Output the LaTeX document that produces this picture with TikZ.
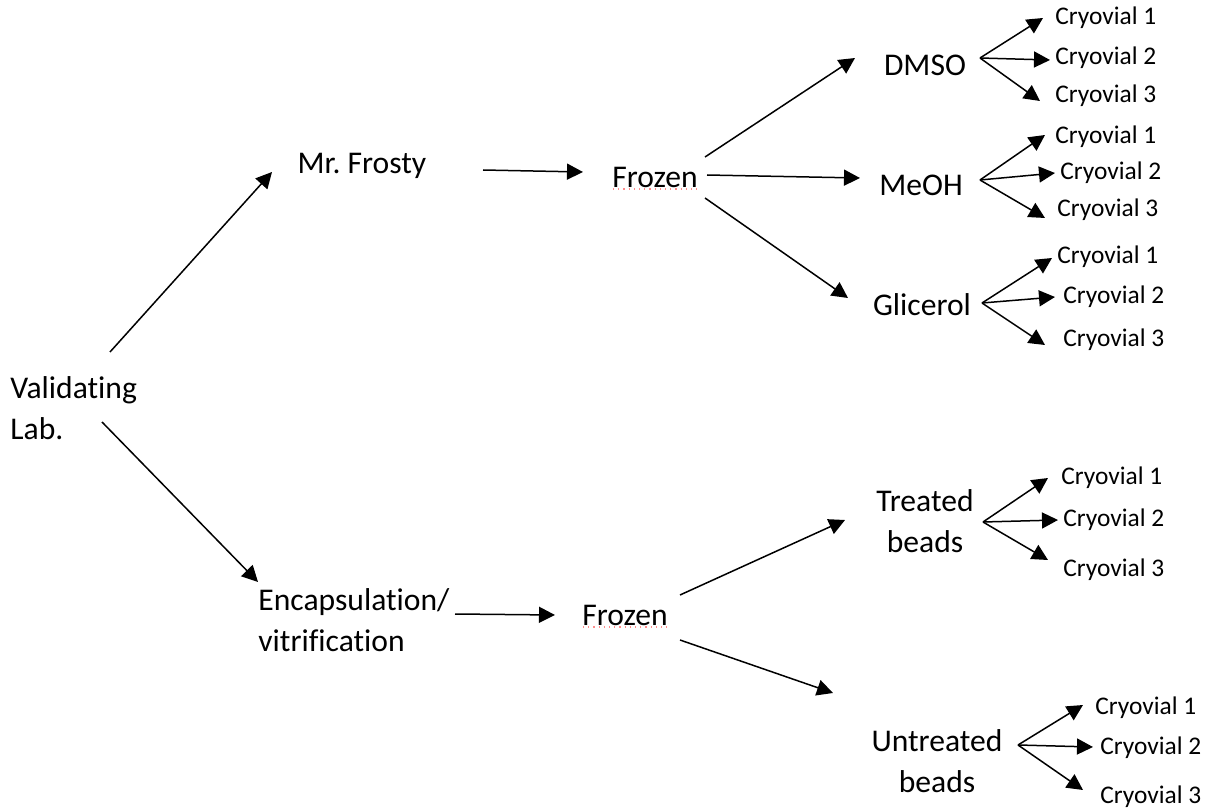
\documentclass[tikz,border=0pt]{standalone}
\usepackage{fontspec}
\setmainfont{Carlito}[Ligatures={NoCommon}]
\usetikzlibrary{arrows.meta}
\begin{document}
\begin{tikzpicture}[x=0.5pt,y=-0.5pt,
  lbl/.style={inner sep=0pt, font=\fontsize{15.8}{20.5}\selectfont},
  cryo/.style={inner sep=0pt, anchor=west, font=\fontsize{12.7}{14}\selectfont},
  arr/.style={line width=0.75pt, -{Triangle[length=8pt,width=8pt]}},
  spell/.style={red!45, dotted, line width=0.6pt}]
\useasboundingbox (0,0) rectangle (1210,812);
% main labels
\node[lbl, anchor=west, align=left] (val) at (10,408) {Validating\\Lab.};
\node[lbl] (frosty) at (362,166) {Mr.\ Frosty};
\node[lbl] (fz1) at (655,177) {Frozen};
\node[lbl] (dmso) at (925,65) {DMSO};
\node[lbl] (meoh) at (921,185) {MeOH};
\node[lbl] (glic) at (922,305) {Glicerol};
\node[lbl, align=center] (treat) at (925,521) {Treated\\beads};
\node[lbl, anchor=west, align=left] (enc) at (258,620) {Encapsulation/\\vitrification};
\node[lbl] (fz2) at (625,615) {Frozen};
\node[lbl, align=center] (untr) at (937,761) {Untreated\\beads};
% spell-check underline
\draw[spell] ([shift={(-42,12)}]fz1.center) -- ([shift={(43,12)}]fz1.center);
\draw[spell] ([shift={(-42,12)}]fz2.center) -- ([shift={(43,12)}]fz2.center);
% cryovials
\node[cryo] (d1) at (1055,18) {Cryovial 1};
\node[cryo] (d2) at (1055,58) {Cryovial 2};
\node[cryo] (d3) at (1055,96) {Cryovial 3};
\node[cryo] (m1) at (1055,137) {Cryovial 1};
\node[cryo] (m2) at (1060,173) {Cryovial 2};
\node[cryo] (m3) at (1057,210) {Cryovial 3};
\node[cryo] (g1) at (1057,257) {Cryovial 1};
\node[cryo] (g2) at (1063,297) {Cryovial 2};
\node[cryo] (g3) at (1063,340) {Cryovial 3};
\node[cryo] (t1) at (1061,478) {Cryovial 1};
\node[cryo] (t2) at (1063,520) {Cryovial 2};
\node[cryo] (t3) at (1063,570) {Cryovial 3};
\node[cryo] (u1) at (1095,708) {Cryovial 1};
\node[cryo] (u2) at (1100,748) {Cryovial 2};
\node[cryo] (u3) at (1100,797) {Cryovial 3};
% main arrows
\draw[arr] ([shift={(100,-56)}]val.west) -- ([shift={(-90,6)}]frosty.center);
\draw[arr] ([shift={(92,14)}]val.west) -- ([shift={(0,-38)}]enc.west);
\draw[arr] ([shift={(121,4)}]frosty.center) -- ([shift={(-72,-5)}]fz1.center);
\draw[arr] ([shift={(50,-20)}]fz1.center) -- ([shift={(-70,-7)}]dmso.center);
\draw[arr] ([shift={(52,-2)}]fz1.center) -- ([shift={(-61,-7)}]meoh.center);
\draw[arr] ([shift={(50,21)}]fz1.center) -- ([shift={(-74,-7)}]glic.center);
\draw[arr] ([shift={(197,-6)}]enc.west) -- ([shift={(-70,0)}]fz2.center);
\draw[arr] ([shift={(55,-20)}]fz2.center) -- ([shift={(-80,-1)}]treat.center);
\draw[arr] ([shift={(55,25)}]fz2.center) -- ([shift={(-104,-68)}]untr.center);
% fans
\draw[arr] ([shift={(55,-7)}]dmso.center) -- ([shift={(-12,0)}]d1.west);
\draw[arr] ([shift={(55,-7)}]dmso.center) -- ([shift={(-5,2)}]d2.west);
\draw[arr] ([shift={(55,-7)}]dmso.center) -- ([shift={(-15,5)}]d3.west);
\draw[arr] ([shift={(59,-5)}]meoh.center) -- ([shift={(-10,-2)}]m1.west);
\draw[arr] ([shift={(59,-5)}]meoh.center) -- ([shift={(-5,0)}]m2.west);
\draw[arr] ([shift={(59,-5)}]meoh.center) -- ([shift={(-12,8)}]m3.west);
\draw[arr] ([shift={(60,-2)}]glic.center) -- ([shift={(-5,1)}]g1.west);
\draw[arr] ([shift={(60,-2)}]glic.center) -- ([shift={(-8,0)}]g2.west);
\draw[arr] ([shift={(60,-2)}]glic.center) -- ([shift={(-18,5)}]g3.west);
\draw[arr] ([shift={(58,1)}]treat.center) -- ([shift={(-13,0)}]t1.west);
\draw[arr] ([shift={(58,1)}]treat.center) -- ([shift={(-5,0)}]t2.west);
\draw[arr] ([shift={(58,1)}]treat.center) -- ([shift={(-15,-10)}]t3.west);
\draw[arr] ([shift={(81,-16)}]untr.center) -- ([shift={(-12,-3)}]u1.west);
\draw[arr] ([shift={(81,-16)}]untr.center) -- ([shift={(-7,-1)}]u2.west);
\draw[arr] ([shift={(81,-16)}]untr.center) -- ([shift={(-17,-7)}]u3.west);
\end{tikzpicture}
\end{document}
